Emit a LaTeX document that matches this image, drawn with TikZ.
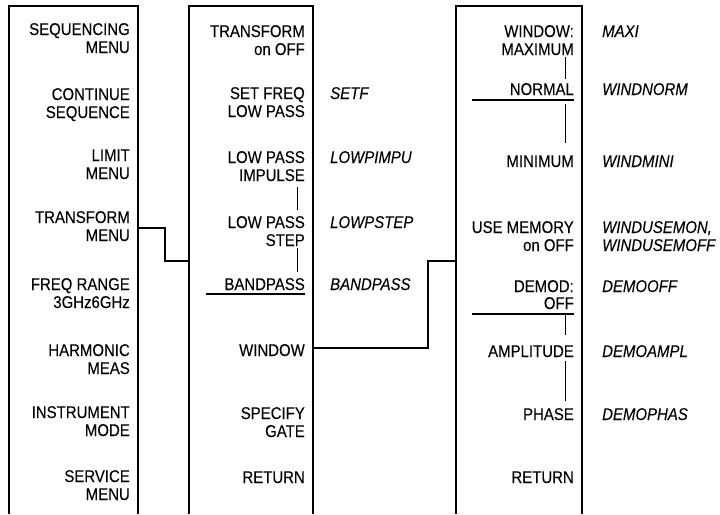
\documentclass[tikz,border=0pt]{standalone}
\usepackage{fontspec}
\setmainfont{Liberation Sans}[FakeStretch=0.88,FakeBold=0.12]
\begin{document}
\begin{tikzpicture}[x=1pt,y=-1pt,
  frame/.style={line width=1.3pt},
  conn/.style={line width=1.1pt},
  tick/.style={line width=0.9pt},
  uline/.style={line width=1.2pt},
  lbl/.style={anchor=base east,inner sep=0pt,font=\fontsize{17}{18}\selectfont},
  code/.style={anchor=base west,inner sep=0pt,font=\fontsize{17}{18}\selectfont\itshape}]
\useasboundingbox (0,0) rectangle (720,514);
% frames (open at the bottom)
\coordinate (f1bl) at (9,514); \coordinate (f1tl) at (9,6); \coordinate (f1tr) at (138,6); \coordinate (f1br) at (138,514);
\coordinate (f2bl) at (189,514); \coordinate (f2tl) at (189,6); \coordinate (f2tr) at (313,6); \coordinate (f2br) at (313,514);
\coordinate (f3bl) at (456,514); \coordinate (f3tl) at (456,6); \coordinate (f3tr) at (582,6); \coordinate (f3br) at (582,514);
\draw[frame] (f1bl) -- (f1tl) -- (f1tr) -- (f1br);
\draw[frame] (f2bl) -- (f2tl) -- (f2tr) -- (f2br);
\draw[frame] (f3bl) -- (f3tl) -- (f3tr) -- (f3br);
% menu 1
\node[lbl] (a1) at (130,35) {SEQUENCING};
\node[lbl] (a1b) at (130,53) {MENU};
\node[lbl] (a2) at (130,100) {CONTINUE};
\node[lbl] (a2b) at (130,118) {SEQUENCE};
\node[lbl] (a3) at (130,161) {LIMIT};
\node[lbl] (a3b) at (130,179) {MENU};
\node[lbl] (a4) at (130,223) {TRANSFORM};
\node[lbl] (a4b) at (130,241) {MENU};
\node[lbl] (a5) at (130,290) {FREQ RANGE};
\node[lbl] (a5b) at (130,308) {3GHz6GHz};
\node[lbl] (a6) at (130,356) {HARMONIC};
\node[lbl] (a6b) at (130,374) {MEAS};
\node[lbl] (a7) at (130,418) {INSTRUMENT};
\node[lbl] (a7b) at (130,436) {MODE};
\node[lbl] (a8) at (130,482) {SERVICE};
\node[lbl] (a8b) at (130,500) {MENU};
% menu 2
\node[lbl] (b1) at (305,37) {TRANSFORM};
\node[lbl] (b1b) at (305,55) {on OFF};
\node[lbl] (b2) at (305,99) {SET FREQ};
\node[lbl] (b2b) at (305,117) {LOW PASS};
\node[lbl] (b3) at (305,163) {LOW PASS};
\node[lbl] (b3b) at (305,181) {IMPULSE};
\node[lbl] (b4) at (305,228) {LOW PASS};
\node[lbl] (b4b) at (305,246) {STEP};
\node[lbl] (b5) at (305,290) {BANDPASS};
\node[lbl] (b6) at (305,356) {WINDOW};
\node[lbl] (b7) at (305,419) {SPECIFY};
\node[lbl] (b7b) at (305,437) {GATE};
\node[lbl] (b8) at (305,483) {RETURN};
\node[code] (c2) at (330,99) {SETF};
\node[code] (c3) at (330,163) {LOWPIMPU};
\node[code] (c4) at (330,228) {LOWPSTEP};
\node[code] (c5) at (330,290) {BANDPASS};
% menu 3
\node[lbl] (d1) at (574,37) {WINDOW:};
\node[lbl] (d1b) at (574,55) {MAXIMUM};
\node[lbl] (d2) at (574,95) {NORMAL};
\node[lbl] (d3) at (574,167) {MINIMUM};
\node[lbl] (d4) at (574,233) {USE MEMORY};
\node[lbl] (d4b) at (574,251) {on OFF};
\node[lbl] (d5) at (574,292) {DEMOD:};
\node[lbl] (d5b) at (574,309) {OFF};
\node[lbl] (d6) at (574,357) {AMPLITUDE};
\node[lbl] (d7) at (574,420) {PHASE};
\node[lbl] (d8) at (574,483) {RETURN};
\node[code] (e1) at (602,37) {MAXI};
\node[code] (e2) at (602,95) {WINDNORM};
\node[code] (e3) at (602,167) {WINDMINI};
\node[code] (e4) at (602,233) {WINDUSEMON,};
\node[code] (e4b) at (602,251) {WINDUSEMOFF};
\node[code] (e5) at (602,292) {DEMOOFF};
\node[code] (e6) at (602,357) {DEMOAMPL};
\node[code] (e7) at (602,420) {DEMOPHAS};
% ticks and underlines
\draw[tick] (297,187) -- (297,210);
\draw[tick] (297,248) -- (297,272);
\draw[uline] (206,294) -- (305,294);
\draw[tick] (565,57) -- (565,79);
\draw[uline] (472,100) -- (574,100);
\draw[tick] (565,104) -- (565,143);
\draw[uline] (472,314) -- (574,314);
\draw[tick] (565,314) -- (565,335);
\draw[tick] (565,361) -- (565,401);
% connectors
\coordinate (k1s) at (138,228); \coordinate (k1m) at (165,261); \coordinate (k1e) at (189,261);
\coordinate (k2s) at (313,348); \coordinate (k2m) at (428,261); \coordinate (k2e) at (456,261);
\draw[conn] (k1s) -| (k1m) -- (k1e);
\draw[conn] (k2s) -| (k2m) -- (k2e);
\end{tikzpicture}
\end{document}
